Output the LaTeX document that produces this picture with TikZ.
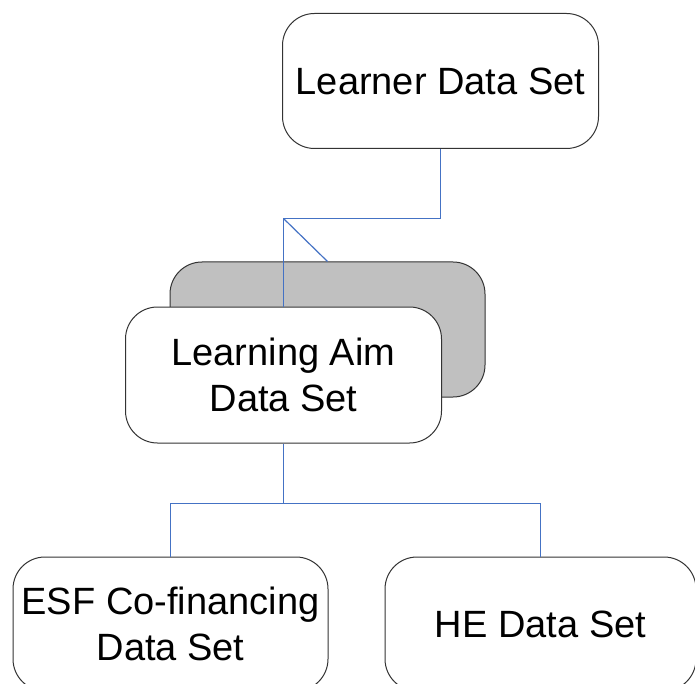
\documentclass[tikz,border=0pt]{standalone}
\usepackage{fontspec}
\setmainfont{Liberation Sans}
\definecolor{connblue}{HTML}{4472C4}
\definecolor{backgray}{HTML}{C0C0C0}
\tikzset{
  databox/.style={draw=black!80, line width=1pt, rounded corners=32pt, fill=white,
    inner sep=0pt, align=center, font=\fontsize{38}{46}\selectfont},
  backbox/.style={databox, fill=backgray},
  conn/.style={draw=connblue, line width=1.2pt}
}
\begin{document}
\begin{tikzpicture}[x=1pt,y=-1pt]
\useasboundingbox (0,0) rectangle (695,684);
\clip (0,0) rectangle (695,684);
\node[databox, minimum width=316pt, minimum height=135pt] (learner) at (440.5,81) {Learner Data Set};
\node[backbox, minimum width=315pt, minimum height=135pt] (aimback) at (327.5,329.5) {};
\node[databox, minimum width=316pt, minimum height=136pt] (aim) at (283.5,375) {Learning Aim\\Data Set};
\node[databox, minimum width=315pt, minimum height=134pt] (esf) at (170.5,624) {ESF Co-financing\\Data Set};
\node[databox, minimum width=311pt, minimum height=134pt] (he) at (540.5,624) {HE Data Set};
\coordinate (j1) at (440.5,218.5);
\coordinate (j2) at (283.5,503.5);
\draw[conn] (learner.south) -- (learner.south |- j1) -| (aim.north);
\draw[conn] (aim.north |- j1) -- (aimback.north);
\draw[conn] (aim.south) -- (j2);
\draw[conn] (esf.north) |- (j2) -| (he.north);
\end{tikzpicture}
\end{document}
